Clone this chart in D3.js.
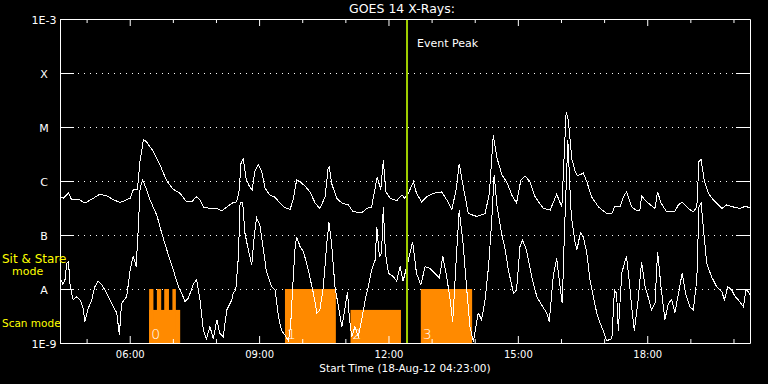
<!DOCTYPE html>
<html>
<head>
<meta charset="utf-8">
<script src="https://cdn.jsdelivr.net/npm/d3@7"></script>
<style>
  html, body { margin: 0; padding: 0; background: #000; }
  svg { display: block; }
  text { font-family: "DejaVu Sans", sans-serif; fill: #fff; }
</style>
</head>
<body>
<div id="chart"></div>
<script>
// chart texts
const title = "GOES 14 X-Rays:";
const startLabel = "Start Time (18-Aug-12 04:23:00)";

// time axis (decimal hours UT)
const startHour = 4 + 23 / 60;
const endHour = startHour + 16;
const hourTicks = d3.range(5, 21);
const majorHours = [6, 9, 12, 15, 18];
const hourLabels = ["06:00", "09:00", "12:00", "15:00", "18:00"];

// flux axis (W/m^2)
const fluxTicks = [1e-9, 1e-8, 1e-7, 1e-6, 1e-5, 1e-4, 1e-3];
const fluxLabels = ["1E-9", "A", "B", "C", "M", "X", "1E-3"];

const eventPeak = 12.43;

// observing modes: [start hour, end hour]
const stareIntervals = [[6.45, 6.55], [6.63, 6.73], [6.80, 6.91], [6.99, 7.07], [9.60, 10.78], [12.75, 13.94]];
const scanIntervals = [[6.45, 7.17], [11.12, 12.29]];
const blockLabels = ["0", "1", "2", "3"];
const blockStarts = [6.45, 9.60, 11.12, 12.75];
const stareLevel = 1e-8;
const scanLevel = 4.1e-9;

// 1-8 A channel: [hour, flux]
const longChannel = [[4.38,5.2e-7],[4.46,4.8e-7],[4.54,5.5e-7],[4.58,6.1e-7],[4.65,4.5e-7],[4.81,4.6e-7],[4.96,3.9e-7],[5.12,4.6e-7],[5.31,5.7e-7],[5.47,5.3e-7],[5.62,4.5e-7],[5.78,4.0e-7],[5.93,4.5e-7],[6.01,4.8e-7],[6.08,6.8e-7],[6.18,7.0e-7],[6.24,2.4e-6],[6.32,5.9e-6],[6.39,5.3e-6],[6.55,3.5e-6],[6.70,2.0e-6],[6.86,1.0e-6],[7.01,7.0e-7],[7.17,5.9e-7],[7.32,4.1e-7],[7.44,4.1e-7],[7.54,5.1e-7],[7.63,4.5e-7],[7.71,3.3e-7],[7.86,3.1e-7],[8.02,3.1e-7],[8.13,2.8e-7],[8.25,3.3e-7],[8.40,4.0e-7],[8.48,4.1e-7],[8.54,6.8e-7],[8.58,2.1e-6],[8.63,2.6e-6],[8.70,1.1e-6],[8.77,8.1e-7],[8.84,6.8e-7],[8.90,1.5e-6],[8.98,2.0e-6],[9.06,1.5e-6],[9.14,7.3e-7],[9.25,5.5e-7],[9.37,5.0e-7],[9.48,3.9e-7],[9.60,3.2e-7],[9.72,3.0e-7],[9.79,4.5e-7],[9.87,1.04e-6],[9.95,9.7e-7],[10.06,8.1e-7],[10.18,6.3e-7],[10.30,3.9e-7],[10.41,3.1e-7],[10.53,5.1e-7],[10.60,1.7e-6],[10.63,1.8e-6],[10.68,9.1e-7],[10.80,4.8e-7],[10.92,3.9e-7],[11.07,3.6e-7],[11.18,2.7e-7],[11.38,2.6e-7],[11.50,3.1e-7],[11.61,3.3e-7],[11.66,5.5e-7],[11.74,1.2e-6],[11.82,6.8e-7],[11.88,2.4e-6],[11.94,6.3e-7],[12.04,4.8e-7],[12.19,4.3e-7],[12.31,5.5e-7],[12.38,4.8e-7],[12.46,5.9e-7],[12.58,9.7e-7],[12.65,5.9e-7],[12.77,4.1e-7],[12.89,5.1e-7],[13.04,5.9e-7],[13.23,6.3e-7],[13.35,4.5e-7],[13.47,2.9e-7],[13.58,7.8e-7],[13.64,2.1e-6],[13.72,9.1e-7],[13.85,2.5e-7],[14.05,2.2e-7],[14.24,2.5e-7],[14.34,5.9e-7],[14.43,7.1e-6],[14.52,2.6e-6],[14.63,1.3e-6],[14.74,9.7e-7],[14.86,5.5e-7],[14.97,3.9e-7],[15.07,1.04e-6],[15.17,1.24e-6],[15.28,9.7e-7],[15.40,5.1e-7],[15.59,3.1e-7],[15.75,2.9e-7],[15.90,5.7e-7],[16.02,3.3e-7],[16.12,1.9e-5],[16.17,1.35e-5],[16.25,2.6e-6],[16.33,1.5e-6],[16.38,1.24e-6],[16.52,1.4e-6],[16.60,9.7e-7],[16.71,5.1e-7],[16.87,3.3e-7],[17.06,2.5e-7],[17.18,2.5e-7],[17.25,3.4e-7],[17.37,3.3e-7],[17.45,5.1e-7],[17.52,6.3e-7],[17.64,3.3e-7],[17.76,2.8e-7],[17.83,2.9e-7],[17.87,5.3e-7],[17.99,4.1e-7],[18.18,3.1e-7],[18.24,6.3e-7],[18.32,3.9e-7],[18.45,2.7e-7],[18.64,2.7e-7],[18.72,3.6e-7],[18.81,4.1e-7],[18.95,3.1e-7],[19.07,2.7e-7],[19.15,3.3e-7],[19.20,2.3e-6],[19.25,2.5e-6],[19.32,1.04e-6],[19.42,5.9e-7],[19.53,4.5e-7],[19.73,3.1e-7],[19.84,3.6e-7],[20.00,3.3e-7],[20.15,3.1e-7],[20.27,3.4e-7],[20.38,3.2e-7]];

// 0.5-4 A channel: [hour, flux]
const shortChannel = [[4.38,1.7e-8],[4.45,1.2e-8],[4.50,1.5e-8],[4.54,3.0e-8],[4.58,3.2e-8],[4.62,1.1e-8],[4.69,6.3e-9],[4.77,7.2e-9],[4.85,6.3e-9],[4.92,4.4e-9],[4.96,2.5e-9],[5.04,4.4e-9],[5.12,6.3e-9],[5.19,1.1e-8],[5.27,1.4e-8],[5.35,1.2e-8],[5.47,8.3e-9],[5.58,5.4e-9],[5.70,3.6e-9],[5.76,1.4e-9],[5.81,5.4e-9],[5.93,7.2e-9],[6.01,2.25e-8],[6.08,4.1e-8],[6.15,2.6e-8],[6.20,1.4e-7],[6.24,7.3e-7],[6.30,1.04e-6],[6.38,7.3e-7],[6.47,4.5e-7],[6.63,2.3e-7],[6.74,1.1e-7],[6.86,5.3e-8],[7.01,2.25e-8],[7.13,1.1e-8],[7.21,8.3e-9],[7.28,5.8e-9],[7.36,6.8e-9],[7.47,1.2e-8],[7.55,1.5e-8],[7.63,6.3e-9],[7.71,1.7e-9],[7.78,1.2e-9],[7.86,2.0e-9],[7.94,1.2e-9],[8.02,2.7e-9],[8.09,1.5e-9],[8.17,1.3e-9],[8.25,4.1e-9],[8.37,6.3e-9],[8.40,8.3e-9],[8.46,9.6e-9],[8.52,4.0e-8],[8.56,4.1e-7],[8.62,3.9e-7],[8.67,1.1e-7],[8.75,5.3e-8],[8.83,2.8e-8],[8.88,8.1e-8],[8.94,2.1e-7],[9.02,1.5e-7],[9.10,5.3e-8],[9.17,2.1e-8],[9.29,1.1e-8],[9.37,9.6e-9],[9.45,3.1e-9],[9.52,1.7e-9],[9.60,1.4e-9],[9.68,1.1e-9],[9.73,2.0e-9],[9.78,1.1e-8],[9.83,5.3e-8],[9.87,9.3e-8],[9.95,6.1e-8],[10.03,4.9e-8],[10.14,2.25e-8],[10.26,8.3e-9],[10.34,3.6e-9],[10.41,4.1e-9],[10.49,1.1e-8],[10.57,7.0e-8],[10.62,1.7e-7],[10.68,7.0e-8],[10.76,1.1e-8],[10.84,4.7e-9],[10.92,2.0e-9],[10.99,4.4e-9],[11.05,8.9e-9],[11.09,3.1e-9],[11.15,1.3e-9],[11.22,2.0e-9],[11.30,1.3e-9],[11.38,2.7e-9],[11.46,6.3e-9],[11.53,1.1e-8],[11.61,2.25e-8],[11.69,3.4e-8],[11.73,1.4e-7],[11.79,4.0e-8],[11.84,4.6e-8],[11.88,3.3e-7],[11.93,4.6e-8],[12.00,1.95e-8],[12.11,1.7e-8],[12.19,1.4e-8],[12.27,2.6e-8],[12.34,1.4e-8],[12.46,3.4e-8],[12.56,7.5e-8],[12.65,1.95e-8],[12.75,1.2e-8],[12.85,2.6e-8],[12.96,2.4e-8],[13.08,1.95e-8],[13.18,1.6e-8],[13.26,4.0e-8],[13.35,1.7e-8],[13.43,6.3e-9],[13.49,2.5e-9],[13.57,3.4e-8],[13.64,2.9e-7],[13.73,7.0e-8],[13.81,1.1e-8],[13.89,2.0e-9],[13.97,1.06e-9],[14.08,3.6e-9],[14.16,2.7e-9],[14.24,6.3e-9],[14.32,2.6e-8],[14.39,1.6e-7],[14.45,1.3e-6],[14.52,3.3e-7],[14.63,1.0e-7],[14.70,5.7e-8],[14.78,2.25e-8],[14.90,8.3e-9],[14.97,9.6e-9],[15.05,6.1e-8],[15.11,8.1e-8],[15.20,5.3e-8],[15.32,1.7e-8],[15.44,7.2e-9],[15.55,5.1e-9],[15.67,3.6e-9],[15.73,2.5e-9],[15.82,1.7e-8],[15.90,3.7e-8],[15.98,1.1e-8],[16.03,5.4e-9],[16.08,1.1e-7],[16.16,5.7e-6],[16.21,6.8e-7],[16.24,2.2e-7],[16.33,7.1e-8],[16.37,5.3e-8],[16.45,1.1e-7],[16.52,9.2e-8],[16.60,4.6e-8],[16.67,1.5e-8],[16.75,7.2e-9],[16.83,3.6e-9],[16.91,2.3e-9],[16.98,1.7e-9],[17.06,1.1e-9],[17.18,1.2e-9],[17.24,9.6e-9],[17.29,8.3e-9],[17.33,1.7e-9],[17.41,1.95e-8],[17.47,3.0e-8],[17.52,4.0e-8],[17.58,1.5e-8],[17.64,4.7e-9],[17.70,1.7e-9],[17.79,6.3e-9],[17.87,3.2e-8],[17.95,1.1e-8],[18.02,7.2e-9],[18.10,4.1e-9],[18.18,5.4e-9],[18.24,4.9e-8],[18.32,1.1e-8],[18.41,2.7e-9],[18.49,5.4e-9],[18.57,6.3e-9],[18.64,3.6e-9],[18.74,9.6e-9],[18.81,1.95e-8],[18.89,8.3e-9],[18.99,4.7e-9],[19.07,4.1e-9],[19.15,1.5e-8],[19.20,3.3e-7],[19.25,3.9e-7],[19.30,1.4e-7],[19.38,3.0e-8],[19.49,1.7e-8],[19.61,1.1e-8],[19.73,8.9e-9],[19.79,6.3e-9],[19.87,1.1e-8],[19.96,9.6e-9],[20.04,7.2e-9],[20.11,6.3e-9],[20.23,4.7e-9],[20.29,9.6e-9],[20.35,8.9e-9],[20.38,7.7e-9]];

// set the dimensions and margins of the graph
const width = 768, height = 384;
const margin = { top: 19, right: 18, bottom: 41, left: 60 };
const w = width - margin.left - margin.right;
const h = height - margin.top - margin.bottom;

const svg = d3.select("#chart")
  .append("svg")
  .attr("width", width)
  .attr("height", height)
  .style("background", "#000");

const g = svg.append("g")
  .attr("transform", "translate(" + margin.left + "," + margin.top + ")");

const x = d3.scaleLinear().domain([startHour, endHour]).range([0, w]);
const y = d3.scaleLog().domain([1e-9, 1e-3]).range([h, 0]);

// dotted flux-class lines
g.selectAll(".grid")
  .data(fluxTicks.slice(1, -1))
  .enter()
  .append("line")
  .attr("x1", 18)
  .attr("x2", w - 16)
  .attr("y1", d => Math.round(y(d)) + 0.5)
  .attr("y2", d => Math.round(y(d)) + 0.5)
  .attr("stroke", "#fff")
  .attr("stroke-dasharray", "1,5");

// observing mode blocks
const orange = "#ff8a00";
g.selectAll(".scan")
  .data(scanIntervals)
  .enter()
  .append("rect")
  .attr("x", d => x(d[0]))
  .attr("width", d => x(d[1]) - x(d[0]))
  .attr("y", y(scanLevel))
  .attr("height", h - y(scanLevel))
  .attr("fill", orange);

g.selectAll(".stare")
  .data(stareIntervals)
  .enter()
  .append("rect")
  .attr("x", d => x(d[0]))
  .attr("width", d => x(d[1]) - x(d[0]))
  .attr("y", y(stareLevel))
  .attr("height", h - y(stareLevel))
  .attr("fill", orange);

g.selectAll(".blockLabel")
  .data(blockLabels)
  .enter()
  .append("text")
  .attr("x", (d, i) => x(blockStarts[i]) + 2)
  .attr("y", h - 4)
  .style("font-size", "14px")
  .style("font-weight", "300")
  .text(d => d);

// flux curves
const line = d3.line()
  .x(d => x(d[0]))
  .y(d => y(d[1]));

[longChannel, shortChannel].forEach(function(series) {
  g.append("path")
    .datum(series)
    .attr("d", line)
    .attr("fill", "none")
    .attr("stroke", "#fff")
    .attr("stroke-width", 1)
    .attr("shape-rendering", "crispEdges");
});

// event peak marker
g.append("line")
  .attr("x1", x(eventPeak))
  .attr("x2", x(eventPeak))
  .attr("y1", 0)
  .attr("y2", h)
  .attr("stroke", "#9fcf00")
  .attr("stroke-width", 2);

g.append("text")
  .attr("x", x(eventPeak) + 10)
  .attr("y", 28)
  .style("font-size", "11px")
  .text("Event Peak");

// axes
function styleAxis(sel) {
  sel.attr("color", "#fff");
  sel.selectAll("path, line").attr("stroke", "#fff");
}

const isMajor = d => majorHours.indexOf(d) >= 0;

g.append("g")
  .attr("transform", "translate(0," + h + ")")
  .call(d3.axisBottom(x)
    .tickValues(hourTicks)
    .tickSizeInner(-4)
    .tickSizeOuter(0)
    .tickPadding(8)
    .tickFormat(d => isMajor(d) ? hourLabels[majorHours.indexOf(d)] : ""))
  .call(styleAxis)
  .call(a => a.selectAll(".tick line").attr("y2", d => isMajor(d) ? -7 : -4))
  .call(a => a.selectAll("text").style("font-size", "10px"));

g.append("g")
  .call(d3.axisTop(x)
    .tickValues(hourTicks)
    .tickSizeInner(-4)
    .tickSizeOuter(0)
    .tickFormat(""))
  .call(styleAxis)
  .call(a => a.selectAll(".tick line").attr("y2", d => isMajor(d) ? 7 : 4));

g.append("g")
  .call(d3.axisLeft(y)
    .tickValues(fluxTicks)
    .tickSizeInner(-14)
    .tickSizeOuter(0)
    .tickFormat((d, i) => fluxLabels[i]))
  .call(styleAxis)
  .call(a => a.selectAll("text")
    .attr("x", -16)
    .attr("dy", "0.42em")
    .attr("text-anchor", "middle")
    .style("font-size", "11px"));

g.append("g")
  .attr("transform", "translate(" + w + ",0)")
  .call(d3.axisRight(y)
    .tickValues(fluxTicks)
    .tickSizeInner(-14)
    .tickSizeOuter(0)
    .tickFormat(""))
  .call(styleAxis);

// titles
svg.append("text")
  .attr("x", margin.left + w / 2 - 3)
  .attr("y", 13)
  .attr("text-anchor", "middle")
  .style("font-size", "12.5px")
  .text(title);

svg.append("text")
  .attr("x", margin.left + w / 2)
  .attr("y", 372)
  .attr("text-anchor", "middle")
  .style("font-size", "10.5px")
  .text(startLabel);

// mode legend on the left
const yellow = "#ffff00";
svg.append("text").attr("x", 2).attr("y", 263).style("font-size", "12px").style("fill", yellow).text("Sit & Stare");
svg.append("text").attr("x", 12).attr("y", 275).style("font-size", "11px").style("fill", yellow).text("mode");
svg.append("text").attr("x", 2).attr("y", 327).style("font-size", "10.5px").style("fill", yellow).text("Scan mode");
</script>
</body>
</html>
